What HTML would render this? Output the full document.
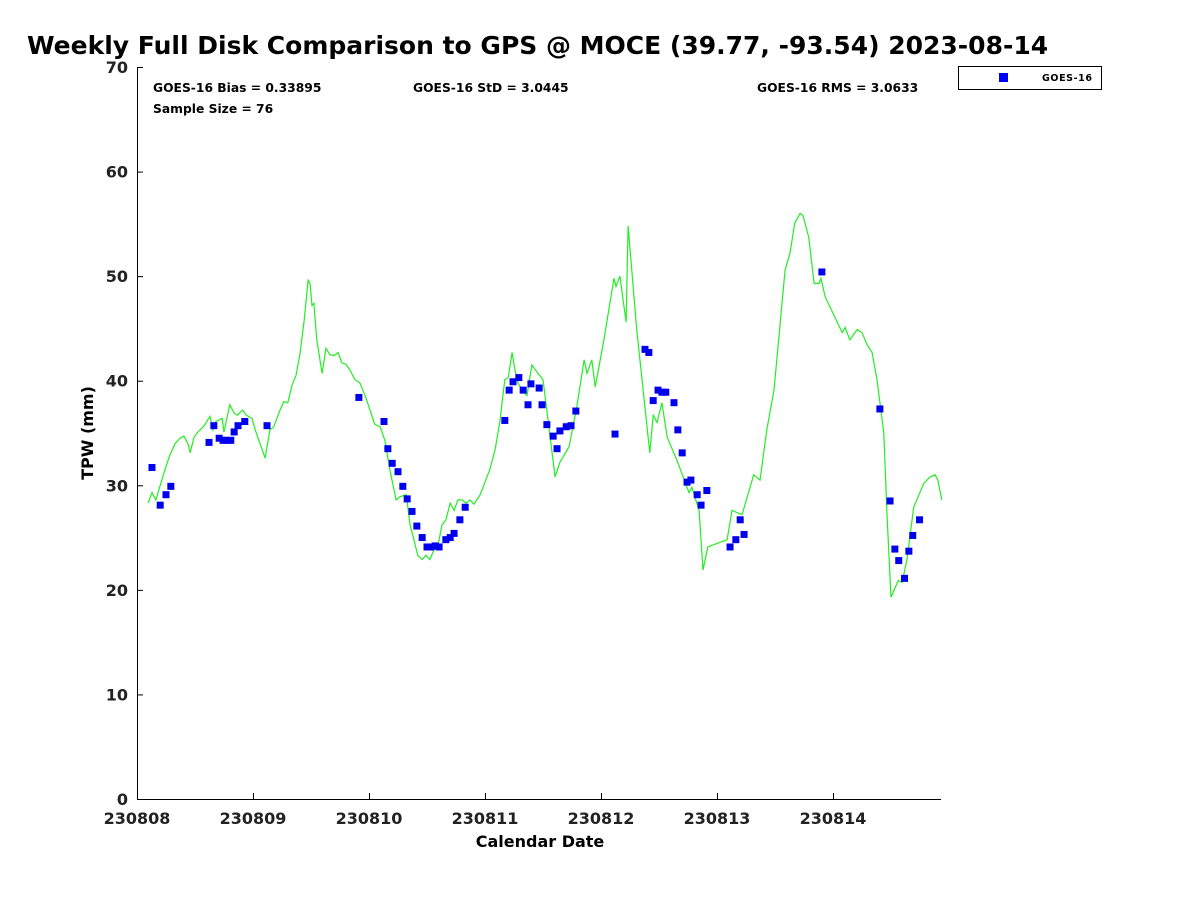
<!DOCTYPE html>
<html><head><meta charset="utf-8"><style>
body{margin:0;background:#fff;}
svg{display:block;font-family:"DejaVu Sans","Liberation Sans",sans-serif;}
</style></head><body>
<svg id="chart" width="1200" height="900" viewBox="0 0 1200 900">
<text x="27" y="54" font-size="25" font-weight="bold">Weekly Full Disk Comparison to GPS @ MOCE (39.77, -93.54) 2023-08-14</text>
<g id="axes"></g>
<g id="series"></g>
<text x="153" y="92" font-size="12.3" font-weight="bold">GOES-16 Bias = 0.33895</text>
<text x="153" y="113" font-size="12.3" font-weight="bold">Sample Size = 76</text>
<text x="413" y="92" font-size="12.3" font-weight="bold">GOES-16 StD = 3.0445</text>
<text x="757" y="92" font-size="12.3" font-weight="bold">GOES-16 RMS = 3.0633</text>
<g>
<rect x="958.5" y="66.5" width="143" height="23" fill="#fff" stroke="#000" stroke-width="1"/>
<rect x="999" y="73" width="9" height="9" fill="#0000ff"/>
<text x="1042" y="81" font-size="9.5" font-weight="bold" letter-spacing="0.6">GOES-16</text>
</g>
<text x="540" y="847" font-size="16" font-weight="bold" text-anchor="middle">Calendar Date</text>
<text transform="translate(93,433) rotate(-90)" font-size="16" font-weight="bold" text-anchor="middle">TPW (mm)</text>
</svg>
<script>
const xTickLabels=["230808","230809","230810","230811","230812","230813","230814"];
const yTicks=[0,10,20,30,40,50,60,70];
// GPS line: hours since 2023-08-08 00Z and TPW (mm)
const gpsHours=[2.3,3.1,3.9,4.8,5.8,6.8,7.9,8.9,9.7,10.6,11.0,11.8,12.6,13.9,15.1,15.7,16.3,17.6,18.0,19.2,20.1,20.7,21.9,22.6,23.8,24.6,25.9,26.5,27.5,28.3,29.6,30.4,31.2,32.1,32.9,33.7,34.6,35.4,35.8,36.2,36.6,37.2,38.3,39.1,39.9,40.8,41.6,42.4,43.2,44.1,45.1,46.1,47.2,48.2,49.2,50.3,51.3,52.3,53.6,54.4,55.7,56.5,57.3,58.1,59.0,59.8,60.6,61.4,62.3,63.1,63.9,64.8,65.6,66.4,67.2,68.1,68.9,69.7,71.0,73.0,74.1,75.1,76.1,76.8,77.6,78.2,78.8,79.7,80.7,81.7,82.8,84.0,86.5,87.5,89.4,91.0,92.5,93.1,94.1,94.8,96.6,98.7,99.1,99.9,101.2,101.6,103.4,106.1,106.8,107.6,108.6,109.7,111.7,114.2,114.8,116.3,117.1,118.1,122.1,123.1,124.1,125.2,127.6,128.9,130.3,131.8,134.1,135.1,136.1,137.2,137.8,139.0,140.1,141.1,141.5,142.4,145.9,146.5,147.5,149.0,150.0,151.1,152.1,153.1,154.5,155.2,156.0,157.5,158.3,159.3,160.7,162.8,164.1,165.1,165.7,166.5];
const gpsTpw=[28.3,29.3,28.6,30.0,31.5,32.9,34.0,34.5,34.7,33.9,33.1,34.6,35.1,35.7,36.6,35.3,36.1,36.4,35.1,37.7,36.9,36.7,37.2,36.7,36.4,35.1,33.4,32.6,35.3,35.6,37.2,38.0,37.9,39.6,40.5,42.5,45.8,49.6,49.3,47.2,47.4,43.9,40.7,43.1,42.5,42.4,42.7,41.7,41.6,41.0,40.1,39.8,38.6,37.2,35.8,35.6,34.3,31.5,28.6,28.9,29.1,26.2,24.8,23.3,22.9,23.3,22.9,23.8,24.3,26.2,26.7,28.3,27.6,28.6,28.6,28.3,28.6,28.2,29.1,31.5,33.4,36.2,40.1,40.3,42.7,41.0,39.8,39.1,38.6,41.5,40.8,40.1,30.8,32.2,33.7,37.5,42.0,40.7,42.0,39.4,43.9,49.8,49.0,50.0,45.6,54.8,44.8,33.1,36.7,36.0,37.9,34.6,32.4,29.3,29.8,27.6,21.9,24.1,24.8,27.6,27.4,27.2,31.0,30.5,35.3,39.1,50.6,52.2,55.1,56.0,55.8,53.7,49.3,49.3,49.8,48.0,44.6,45.1,43.9,44.9,44.6,43.4,42.7,40.1,35.0,27.0,19.3,20.9,20.7,22.9,27.9,30.2,30.8,31.0,30.5,28.6];
// GOES-16 retrievals
const goesHours=[3.1,4.8,6.0,7.0,14.9,15.9,17.0,17.8,18.6,19.4,20.1,20.9,22.3,26.9,45.9,51.1,51.9,52.8,54.0,55.0,55.9,56.9,57.9,59.0,60.0,60.8,61.7,62.5,63.9,64.8,65.6,66.8,67.9,76.1,77.0,77.8,79.0,79.9,80.9,81.5,83.2,83.8,84.8,86.1,86.9,87.5,88.8,89.8,90.8,98.9,105.1,105.9,106.8,107.8,108.6,109.4,111.1,111.9,112.8,113.8,114.6,115.9,116.7,117.9,122.7,123.9,124.8,125.6,141.7,153.7,155.8,156.8,157.6,158.8,159.7,160.5,161.9];
const goesTpw=[31.7,28.1,29.1,29.9,34.1,35.7,34.5,34.3,34.3,34.3,35.1,35.7,36.1,35.7,38.4,36.1,33.5,32.1,31.3,29.9,28.7,27.5,26.1,25.0,24.1,24.1,24.2,24.1,24.8,25.0,25.4,26.7,27.9,36.2,39.1,39.9,40.3,39.1,37.7,39.7,39.3,37.7,35.8,34.7,33.5,35.2,35.6,35.7,37.1,34.9,43.0,42.7,38.1,39.1,38.9,38.9,37.9,35.3,33.1,30.3,30.5,29.1,28.1,29.5,24.1,24.8,26.7,25.3,50.4,37.3,28.5,23.9,22.8,21.1,23.7,25.2,26.7];

const NS="http://www.w3.org/2000/svg";
const X0=137,X1=941,Y0=799,Y1=67;
const PXDAY=116;
function xs(h){return X0+h/24*PXDAY;}
function ys(v){return Y0-(v-0)/(70-0)*(Y0-Y1);}
function mk(tag,attrs,parent){const e=document.createElementNS(NS,tag);for(const k in attrs)e.setAttribute(k,attrs[k]);parent.appendChild(e);return e;}
const axes=document.getElementById('axes'),series=document.getElementById('series');
const ax=mk('path',{d:`M${X0+0.5},${Y1} V${Y0+0.5} H${X1}`,fill:'none',stroke:'#000','stroke-width':1},axes);


yTicks.forEach(v=>{
  const y=ys(v);
  const t=mk('line',{x1:X0,x2:X0+6,y1:y+0.5,y2:y+0.5,stroke:'#000'},axes);
  
  
  const l=mk('text',{x:X0-9,y:y+6,'font-size':16,'font-weight':'bold','text-anchor':'end',fill:'#222'},axes);
  l.textContent=v;
  
  
});
xTickLabels.forEach((lab,i)=>{
  const x=xs(i*24);
  const t=mk('line',{x1:x+0.5,x2:x+0.5,y1:Y0,y2:Y0-6,stroke:'#000'},axes);
  
  
  const l=mk('text',{x:x,y:Y0+25,'font-size':16,'font-weight':'bold','text-anchor':'middle',fill:'#222'},axes);
  l.textContent=lab;
  
  
});
const pts=gpsHours.map((h,i)=>xs(h).toFixed(1)+','+ys(gpsTpw[i]).toFixed(1)).join(' ');
const line=mk('polyline',{points:pts,fill:'none',stroke:'#22ee22','stroke-width':1.2},series);


goesHours.forEach((h,i)=>{
  const r=mk('rect',{x:xs(h)-3.5,y:ys(goesTpw[i])-3.5,width:7,height:7,fill:'#0000ee'},series);
  
  
});
</script>
</body></html>
